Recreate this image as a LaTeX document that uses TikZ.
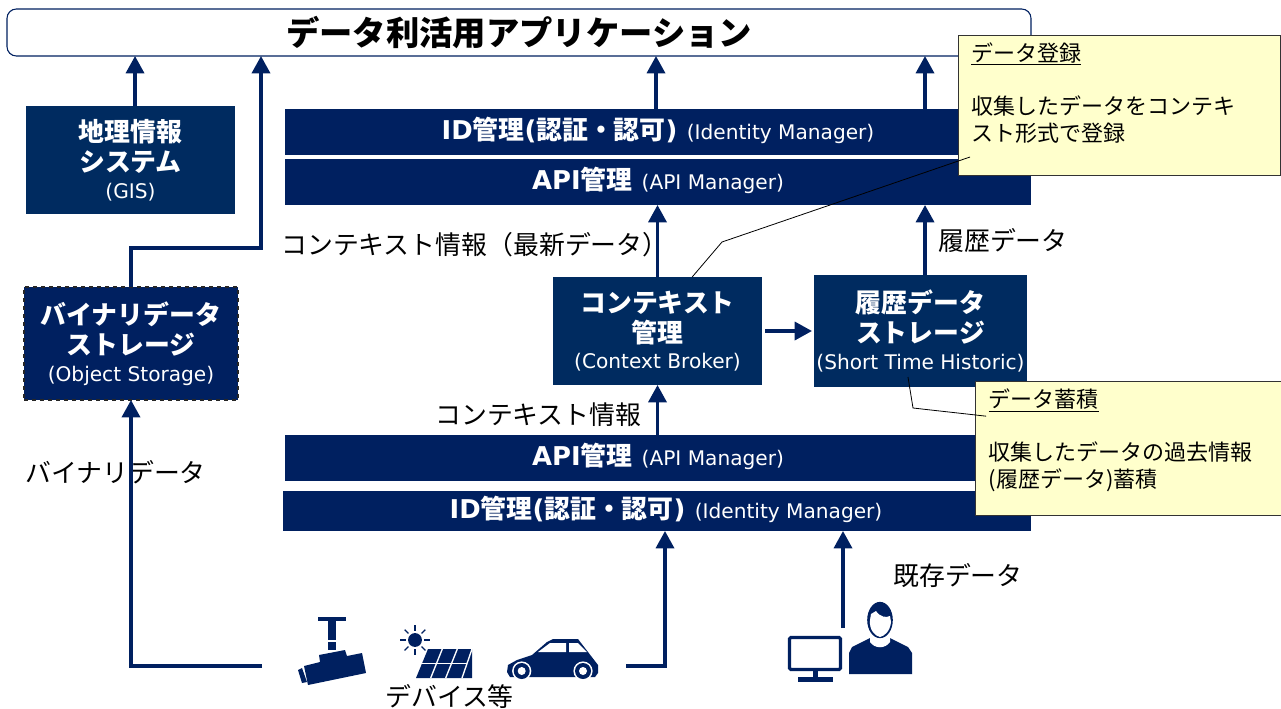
\documentclass[tikz,border=0pt]{standalone}
\usepackage{fontspec}
\usepackage{tikz}
\usepackage{xcolor}
\usetikzlibrary{arrows.meta}
\setmainfont{DejaVu Sans}
\newfontfamily\jp{Noto Sans CJK JP}
\definecolor{navyflow}{HTML}{002060}
\definecolor{navybox}{HTML}{002B60}
\definecolor{notefill}{HTML}{FFFFCC}
\newcommand{\headfont}{\fontsize{19.4}{22.5}\selectfont\bfseries}
\newcommand{\subfont}{\fontsize{15.1}{22.5}\selectfont}
\newcommand{\hd}[1]{{\headfont\jp #1}}
\newcommand{\hl}[1]{{\headfont #1}}
\newcommand{\sub}[1]{{\subfont #1}}
\tikzset{
  bigbox/.style={fill=navybox, text=white, align=center, outer sep=0pt, inner sep=0pt, font=\subfont},
  barbox/.style={fill=navyflow, text=white, outer sep=0pt, inner sep=0pt, minimum width=559.5pt, minimum height=34.5pt, text depth=5.5pt},
  flow/.style={navyflow, line width=2.6pt, -{Triangle[length=13pt,width=13.5pt]}},
  lbl/.style={font=\fontsize{19.4}{22.5}\selectfont\jp, inner sep=0pt, anchor=west},
  notebox/.style={fill=notefill, draw=black!80, line width=0.7pt, anchor=north west, align=left, inner sep=0pt,
    outer sep=0pt, font=\fontsize{16.5}{20}\selectfont\jp},
  callout/.style={black, line width=0.6pt},
  icon/.style={fill=navyflow, draw=none}
}
\begin{document}
\begin{tikzpicture}[x=0.75pt,y=-0.75pt]
\useasboundingbox (0,0) rectangle (1281,708);
\node[draw=navyflow, line width=0.8pt, rounded corners=7pt, minimum width=768pt, minimum height=35.25pt, outer sep=0pt,
  font=\fontsize{25}{30}\selectfont\bfseries\jp] (app) at (519,32.5) {データ利活用アプリケーション};
% left column
\node[bigbox, minimum width=156.75pt, minimum height=81pt] (gis) at (130.5,160)
  {\hd{地理情報}\\\hd{システム}\\[-2.6pt]\sub{(GIS)}};
\node[bigbox, fill=navyflow, draw=black!85, dashed, line width=1.1pt, minimum width=160.5pt, minimum height=84.75pt] (bin) at (131,343.5)
  {\hd{バイナリデータ}\\\hd{ストレージ}\\[-2.6pt]\sub{(Object Storage)}};
% upper bars
\node[barbox] (idtop) at (658,132) {\hl{ID}\hd{管理}\hl{(}\hd{認証・認可}\hl{)}\hspace{7pt}\sub{(Identity Manager)}};
\node[barbox] (apitop) at (658,182) {\hl{API}\hd{管理}\hspace{7pt}\sub{(API Manager)}};
% middle boxes
\node[bigbox, minimum width=156.75pt, minimum height=81pt] (ctx) at (657.5,331)
  {\hd{コンテキスト}\\\hd{管理}\\[-2.6pt]\sub{(Context Broker)}};
\node[bigbox, minimum width=159.75pt, minimum height=84pt] (hist) at (920.5,331)
  {\hd{履歴データ}\\\hd{ストレージ}\\[-2.6pt]\sub{(Short Time Historic)}};
% lower bars
\node[barbox] (apibot) at (658,458) {\hl{API}\hd{管理}\hspace{7pt}\sub{(API Manager)}};
\node[barbox, minimum width=561pt, minimum height=30pt] (idbot) at (657,511)
  {\hspace*{13.5pt}\hl{ID}\hd{管理}\hl{(}\hd{認証・認可}\hl{)}\hspace{7pt}\sub{(Identity Manager)}};
% text
\node[lbl] (ctxnew) at (281,245) {コンテキスト情報（最新データ）};
\node[lbl] (histlbl) at (938,241) {履歴データ};
\node[lbl] (ctxlbl) at (435,415) {コンテキスト情報};
\node[lbl] (binlbl) at (25,472) {バイナリデータ};
\node[lbl] (oldlbl) at (893,576) {既存データ};
\node[lbl] (devlbl) at (385,696) {デバイス等};
% connectors
\coordinate (binturn) at (261,248);
\coordinate (camend) at (262,666);
\coordinate (carend) at (626,666);
\coordinate (pcend) at (843,628);
\draw[flow] ([xshift=3.4pt]gis.north) -- ([xshift=3.4pt]gis.north |- app.south);
\draw[flow] (bin.north) |- (binturn) -- (binturn |- app.south);
\draw[flow] ([xshift=-1.5pt]idtop.north) -- ([xshift=-1.5pt]idtop.north |- app.south);
\draw[flow] ([xshift=200.25pt]idtop.north) -- ([xshift=200.25pt]idtop.north |- app.south);
\draw[flow] (ctx.north) -- (ctx.north |- apitop.south);
\draw[flow] ([xshift=3.4pt]hist.north) -- ([xshift=3.4pt]hist.north |- apitop.south);
\draw[flow, shorten <=2.5pt, shorten >=1.5pt] (ctx.east) -- (hist.west);
\draw[flow] (apibot.north -| ctx.south) -- (ctx.south);
\draw[flow] (camend) -| (bin.south);
\draw[flow] (carend) -| ([xshift=6pt]idbot.south);
\draw[flow] (pcend) -- (pcend |- idbot.south);
% camera
\fill[icon] (318,617) rectangle (346,621);
\fill[icon] (328,621) rectangle (336,640);
\fill[icon] (328,642) rectangle (336,650);
\fill[icon] (319,655) -- (345,650) -- (347,656) -- (362,653) -- (366,673) -- (308,685) -- (304,666) -- (320,662) -- cycle;
\fill[icon] (298,670) -- (302,668) -- (307,682) -- (302,683) -- cycle;
% sun and panel
\fill[icon] (415,640) circle (5.2pt);
\foreach \a in {0,45,...,315}
  \draw[navyflow, line width=1pt] (415,640) ++(\a:7pt) -- ++(\a:4pt);
\fill[icon] (428,649) -- (472,649) -- (472,678) -- (416,678) -- cycle;
\draw[white, line width=1pt] (442.3,649) -- (430.7,678);
\draw[white, line width=1pt] (457.3,649) -- (445.7,678);
\draw[white, line width=1pt] (472,649) -- (462,678);
\draw[white, line width=1pt] (420,663.5) -- (467,663.5);
% car
\fill[icon] (507,672) -- (508,665) -- (517,660) -- (532,655) -- (547,642) -- (553,639) -- (578,639) -- (598,665) -- (598,673) -- (595,677) -- (510,677) -- cycle;
\fill[white] (538,652) -- (550,643) -- (566,643) -- (566,652) -- cycle;
\fill[white] (569,643) -- (578,643) -- (587,652) -- (569,652) -- cycle;
\foreach \cx in {521.7,583}{
  \fill[white] (\cx,671) circle (7.2pt);
  \fill[icon] (\cx,671) circle (6pt);
  \fill[white] (\cx,671) circle (3pt);
}
% monitor
\draw[navyflow, line width=2.4pt, rounded corners=1pt] (789.5,637.5) rectangle (840.5,669.5);
\fill[icon] (813,671) rectangle (818,677);
\fill[icon] (798,677) rectangle (833,682);
% person
\fill[icon] (849,653) -- (852,647) -- (870,638) -- (890,638) -- (908,647) -- (912,653) -- (912,674) -- (849,674) -- cycle;
\fill[white] (870,636) -- (890,636) -- (890,642) .. controls (885,649) and (875,649) .. (870,642) -- cycle;
\fill[icon] (880,620) ellipse (9.6pt and 13.6pt);
\fill[white] (871,614) -- (876,611) .. controls (880,617) and (886,618) .. (890,616) -- (891,622) .. controls (890,632) and (884,636) .. (880,637) .. controls (875,636) and (869,630) .. (870,620) -- cycle;
% notes
\node[notebox] (regnote) at (958,35)
  {\begin{minipage}[t][105pt][t]{241.5pt}\vspace{5.5pt}\leftskip=10pt\rule{0pt}{13pt}\underline{データ登録}\\[20pt]収集したデータをコンテキ\\スト形式で登録\end{minipage}};
\node[notebox] (accnote) at (975.5,381.5)
  {\begin{minipage}[t][100.5pt][t]{229.5pt}\vspace{5.5pt}\leftskip=10pt\rule{0pt}{13pt}\underline{データ蓄積}\\[20pt]収集したデータの過去情報\\(履歴データ)蓄積\end{minipage}};
\draw[callout] ([xshift=26pt]ctx.north) -- (722,242) -- ([shift={(9pt,13.5pt)}]regnote.south west);
\draw[callout] ([shift={(-9.4pt,7.5pt)}]hist.south) -- (913,408) -- ([shift={(8pt,-26pt)}]accnote.north west);
\end{tikzpicture}
\end{document}
